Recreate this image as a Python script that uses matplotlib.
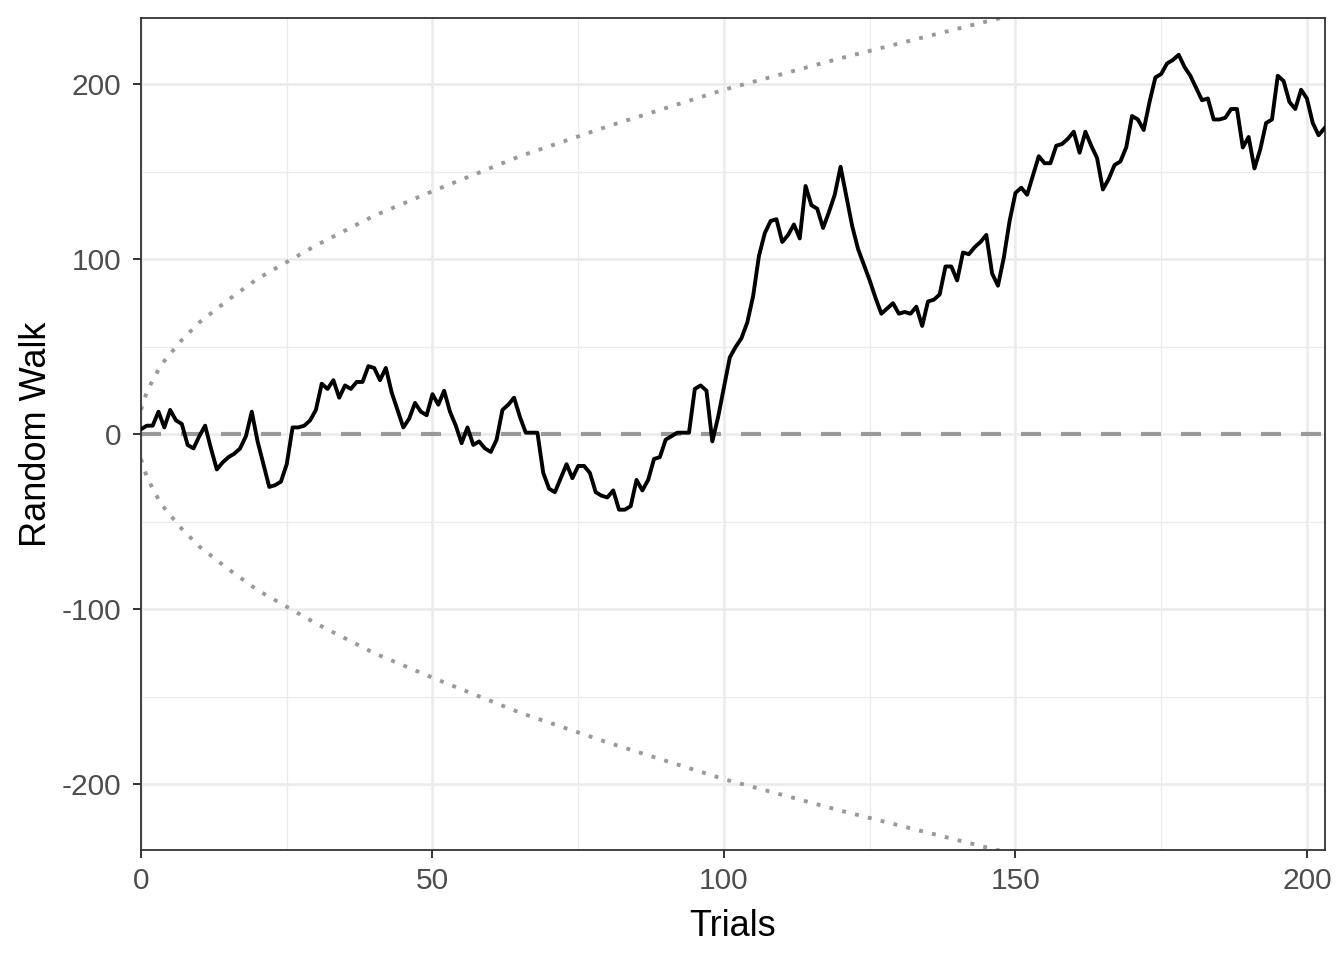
import matplotlib.pyplot as plt
import numpy as np

plt.rcParams['font.family'] = ['Liberation Sans', 'DejaVu Sans']
plt.rcParams['axes.unicode_minus'] = False

# random walk, one value per trial
trials = list(range(0, 204))
walk = [3, 5, 5, 13, 4, 14, 8, 6, -6, -8,
        -1, 5, -8, -20, -16, -13, -11, -8, -1, 13,
        -4, -17, -30, -29, -27, -17, 4, 4, 5, 8,
        14, 29, 26, 31, 21, 28, 26, 30, 30, 39,
        38, 31, 38, 24, 14, 4, 9, 18, 13, 11,
        23, 17, 25, 13, 5, -5, 4, -6, -4, -8,
        -10, -3, 14, 17, 21, 10, 1, 1, 1, -22,
        -31, -33, -25, -17, -25, -18, -18, -22, -33, -35,
        -36, -32, -43, -43, -41, -26, -32, -26, -14, -13,
        -3, -1, 1, 1, 1, 26, 28, 25, -4, 10,
        27, 44, 50, 55, 64, 79, 102, 115, 122, 123,
        110, 114, 120, 112, 142, 131, 129, 118, 127, 137,
        153, 136, 119, 106, 97, 88, 78, 69, 72, 75,
        69, 70, 69, 73, 62, 76, 77, 80, 96, 96,
        88, 104, 103, 107, 110, 114, 92, 85, 101, 122,
        138, 141, 137, 148, 159, 155, 155, 165, 166, 169,
        173, 161, 173, 165, 158, 140, 146, 154, 156, 164,
        182, 180, 174, 190, 204, 206, 212, 214, 217, 210,
        205, 198, 191, 192, 180, 180, 181, 186, 186, 164,
        170, 152, 163, 178, 180, 205, 202, 190, 186, 197,
        192, 178, 171, 175]

# envelope (dotted), upper half; lower half is its mirror
env_x = [0, 0.5, 1, 2, 3, 4, 5, 7, 10, 15, 20, 30, 40, 50, 65, 80, 100, 120, 145, 160]
env_y = [14, 19.6, 24, 31, 37, 42, 46, 54, 64, 77, 89, 108, 125, 139, 159, 176, 197, 215, 236, 248]

fig = plt.figure(figsize=(13.44, 9.6), dpi=100)
ax = fig.add_axes([141/1344, 1 - 850/960, (1325-141)/1344, (850-18)/960])

ax.set_xticks([0, 50, 100, 150, 200])
ax.set_yticks([-200, -100, 0, 100, 200])
ax.set_xticks([25, 75, 125, 175], minor=True)
ax.set_yticks([-150, -50, 50, 150], minor=True)
ax.grid(which='major', color='#EBEBEB', lw=1.8, zorder=0)
ax.grid(which='minor', color='#EBEBEB', lw=0.9, zorder=0)
ax.set_axisbelow(True)

env_x = np.array(env_x)
env_y = np.array(env_y)
ax.plot(env_x, env_y, color='#999999', lw=2.8, linestyle=(0, (1, 2.4)), zorder=2)
ax.plot(env_x, -env_y, color='#999999', lw=2.8, linestyle=(0, (1, 2.4)), zorder=2)
ax.axhline(0, color='#999999', lw=3, linestyle=(0, (4.8, 4.8)), zorder=2)
ax.plot(trials, walk, color='black', lw=2.8, zorder=3)

ax.set_xlim(0, 203.1)
ax.set_ylim(-237.5, 238)

for s in ax.spines.values():
    s.set_color('#333333')
    s.set_linewidth(1.3)
ax.tick_params(which='major', length=6, width=1.4, color='#333333',
               labelsize=21.5, labelcolor='#4D4D4D', pad=8)
ax.tick_params(axis='x', pad=6)
ax.tick_params(which='minor', length=0)

ax.set_xlabel('Trials', fontsize=26, labelpad=10)
ax.set_ylabel('Random Walk', fontsize=26, labelpad=6)

fig.savefig('out.png', dpi=100)
